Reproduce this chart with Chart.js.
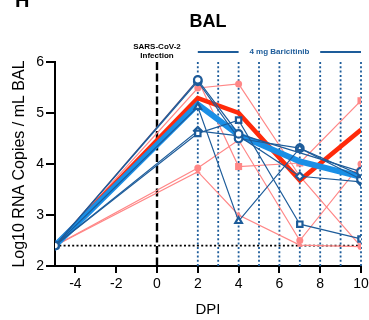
<!DOCTYPE html>
<html>
<head>
<meta charset="utf-8">
<script src="https://cdn.jsdelivr.net/npm/chart.js@4.4.1/dist/chart.umd.min.js"></script>
<style>
  html, body { margin: 0; padding: 0; background: #fff; }
</style>
</head>
<body>
<canvas id="chart" width="369" height="320"></canvas>
<script>
/* BAL viral RNA after SARS-CoV-2 infection, baricitinib vs untreated.
   Values (log10 copies / mL). */

const days = [-5, 2, 4, 7, 10];
const xTicks = [-4, -2, 0, 2, 4, 6, 8, 10];
const yTicks = [2, 3, 4, 5, 6];
const dosingDays = [2, 3, 4, 5, 6, 7, 8, 9, 10];
const limitOfDetection = 2.4;

// baricitinib-treated animals
const treatedCircle   = [2.4, 5.65, 4.59, null, 3.85];
const treatedSquare   = [2.4, 4.60, 4.86, 2.82, 2.53];
const treatedTriangle = [2.4, 5.12, 2.88, 4.31, 3.78];
const treatedRot      = [2.4, 5.62, 4.50, 4.31, 3.70];
const treatedDiamond  = [2.4, 4.65, 4.55, 3.76, 3.65];

// untreated animals
const untreatedSquare   = [2.4, 5.65, 3.95, 4.02, 5.24];
const untreatedCircle   = [2.4, 5.49, 5.57, 3.76, 2.38];
const untreatedTriangle = [2.4, 3.85, 3.00, 2.41, 2.38];
const untreatedCircle2  = [2.4, 3.92, 4.47, 2.50, 4.00];

// group means
const treatedMean   = [2.4, 5.17, 4.57, 4.05, 3.75];
const untreatedMean = [2.4, 5.29, 5.00, 3.68, 4.67];

const DARK_BLUE = "#1d5c9a";
const PINK = "#ff8787";
const RED = "#ff2a0a";
const BRIGHT_BLUE = "#1a8fe6";
const FONT = "'Liberation Sans', Arial, Helvetica, sans-serif";

const pts = vals => days.map((d, i) => ({ x: d, y: vals[i] }));

function treated(vals, style) {
  return {
    data: pts(vals), order: 0, spanGaps: true,
    borderColor: DARK_BLUE, borderWidth: 1.2,
    pointStyle: style, pointRadius: 3.8, pointBorderWidth: 2.2,
    pointBackgroundColor: "#fff", pointBorderColor: DARK_BLUE
  };
}
function untreated(vals, style, r) {
  return {
    data: pts(vals), order: 3, spanGaps: true,
    borderColor: PINK, borderWidth: 1.2,
    pointStyle: style, pointRadius: r, pointBorderWidth: 0,
    pointBackgroundColor: PINK, pointBorderColor: PINK
  };
}

const overlay = {
  id: "overlay",
  beforeDatasetsDraw(chart) {
    const { ctx, chartArea: a, scales: { x, y } } = chart;
    ctx.save();
    // dosing days
    ctx.strokeStyle = DARK_BLUE;
    ctx.lineWidth = 1.8;
    ctx.setLineDash([2, 2.3]);
    for (const d of dosingDays) {
      const px = x.getPixelForValue(d);
      ctx.beginPath(); ctx.moveTo(px, a.top); ctx.lineTo(px, a.bottom); ctx.stroke();
    }
    // limit of detection
    ctx.strokeStyle = "#000";
    const ly = y.getPixelForValue(limitOfDetection);
    ctx.beginPath(); ctx.moveTo(a.left, ly); ctx.lineTo(x.getPixelForValue(10), ly); ctx.stroke();
    // infection
    ctx.lineWidth = 2.4;
    ctx.setLineDash([8, 3.5]);
    const ix = x.getPixelForValue(0);
    ctx.beginPath(); ctx.moveTo(ix, a.top); ctx.lineTo(ix, a.bottom); ctx.stroke();
    ctx.restore();
  },
  afterDraw(chart) {
    const { ctx, chartArea: a, scales: { x } } = chart;
    ctx.save();
    ctx.fillStyle = "#000";
    ctx.textAlign = "left";
    ctx.textBaseline = "alphabetic";
    ctx.font = `bold 20px ${FONT}`;
    ctx.fillText("H", 15, 7);

    ctx.textAlign = "center";
    ctx.textBaseline = "middle";
    ctx.font = `bold 18px ${FONT}`;
    ctx.fillText("BAL", (a.left + a.right) / 2, 22);

    ctx.font = `bold 8px ${FONT}`;
    const ix = x.getPixelForValue(0);
    ctx.fillText("SARS-CoV-2", ix, 47);
    ctx.fillText("Infection", ix, 56);

    ctx.fillStyle = DARK_BLUE;
    ctx.fillText("4 mg Baricitinib", x.getPixelForValue(6), 52);
    ctx.strokeStyle = DARK_BLUE;
    ctx.lineWidth = 2;
    ctx.beginPath();
    ctx.moveTo(x.getPixelForValue(2), 52); ctx.lineTo(x.getPixelForValue(4), 52);
    ctx.moveTo(x.getPixelForValue(8), 52); ctx.lineTo(x.getPixelForValue(10), 52);
    ctx.stroke();
    ctx.restore();
  }
};

new Chart(document.getElementById("chart"), {
  type: "line",
  data: {
    datasets: [
      treated(treatedCircle, "circle"),
      treated(treatedSquare, "rect"),
      treated(treatedTriangle, "triangle"),
      treated(treatedRot, "circle"),
      treated(treatedDiamond, "rectRot"),
      { data: pts(treatedMean), order: 1, borderColor: BRIGHT_BLUE, borderWidth: 6, pointRadius: 0 },
      { data: pts(untreatedMean), order: 2, borderColor: RED, borderWidth: 4.5, pointRadius: 0 },
      untreated(untreatedSquare, "rect", 5),
      untreated(untreatedCircle, "circle", 3.5),
      untreated(untreatedTriangle, "triangle", 3.5),
      untreated(untreatedCircle2, "circle", 3.5)
    ]
  },
  options: {
    responsive: false,
    animation: false,
    layout: { padding: { top: 62, left: 0, right: 0, bottom: 0 } },
    elements: { line: { tension: 0 } },
    plugins: { legend: { display: false }, tooltip: { enabled: false } },
    scales: {
      x: {
        type: "linear", min: -5, max: 10,
        afterBuildTicks: s => { s.ticks = xTicks.map(v => ({ value: v })); },
        afterFit: s => { s.height = 54; s.paddingRight = 8; },
        grid: { drawOnChartArea: false, color: "#000", lineWidth: 2, tickLength: 7 },
        border: { color: "#000", width: 2 },
        ticks: { color: "#000", font: { family: FONT, size: 14 }, padding: 3, maxRotation: 0 },
        title: { display: true, text: "DPI", color: "#000", font: { family: FONT, size: 15 }, padding: { top: 0, bottom: 1 } }
      },
      y: {
        min: 2, max: 6,
        afterBuildTicks: s => { s.ticks = yTicks.map(v => ({ value: v })); },
        afterFit: s => { s.width = 55; },
        grid: { drawOnChartArea: false, color: "#000", lineWidth: 2, tickLength: 9 },
        border: { color: "#000", width: 2 },
        ticks: { color: "#000", font: { family: FONT, size: 14 }, padding: 2 },
        title: { display: true, text: "Log10 RNA Copies / mL BAL", color: "#000", font: { family: FONT, size: 16 }, padding: { top: 10, bottom: 0 } }
      }
    }
  },
  plugins: [overlay]
});
</script>
</body>
</html>
